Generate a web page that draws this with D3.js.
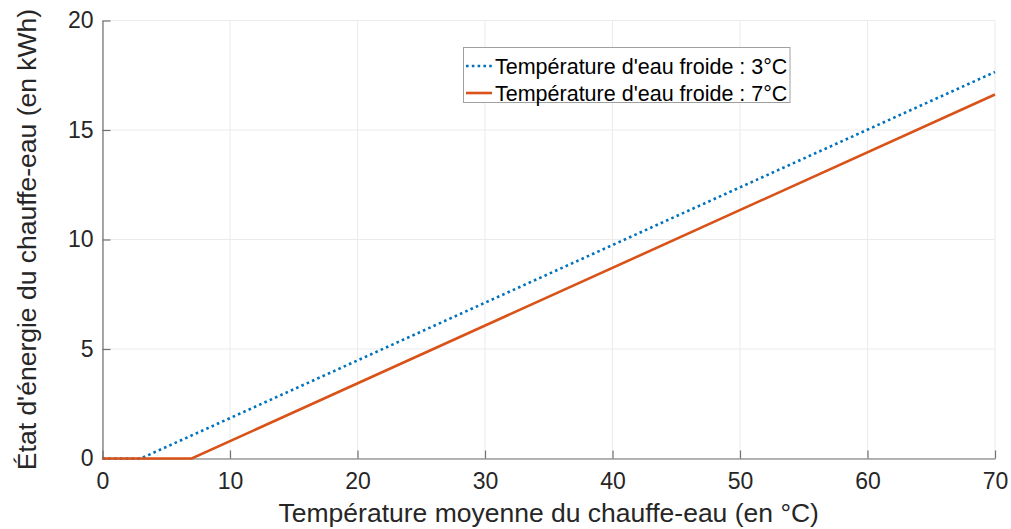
<!DOCTYPE html>
<html>
<head>
<meta charset="utf-8">
<script src="https://cdn.jsdelivr.net/npm/d3@7"></script>
<style>
body { margin: 0; background: #fff; }
text { font-family: "Liberation Sans", Arial, sans-serif; }
</style>
</head>
<body>
<div id="chart"></div>
<script>
// valeurs
const tempCold3 = [0, 3, 70];
const energyCold3 = [0, 0, 17.65];
const tempCold7 = [0, 7, 70];
const energyCold7 = [0, 0, 16.62];
const seriesNames = ["Température d'eau froide : 3°C", "Température d'eau froide : 7°C"];
const xTicks = [0, 10, 20, 30, 40, 50, 60, 70];
const yTicks = [0, 5, 10, 15, 20];

const width = 1011, height = 529;
const margin = {top: 20.5, right: 16, bottom: 70.5, left: 102.5};

let svg = d3.select("#chart")
    .append("svg")
    .attr("width", width)
    .attr("height", height);

let x = d3.scaleLinear().domain([0, 70]).range([margin.left, width - margin.right]);
let y = d3.scaleLinear().domain([0, 20]).range([height - margin.bottom, margin.top]);

// grille
svg.append("g").selectAll("line").data(xTicks).join("line")
    .attr("x1", d => x(d)).attr("x2", d => x(d))
    .attr("y1", y(0)).attr("y2", y(20))
    .attr("stroke", "#ebebeb").attr("stroke-width", 1);
svg.append("g").selectAll("line").data(yTicks).join("line")
    .attr("x1", x(0)).attr("x2", x(70))
    .attr("y1", d => y(d)).attr("y2", d => y(d))
    .attr("stroke", "#ebebeb").attr("stroke-width", 1);

// axes
let xAxis = svg.append("g")
    .attr("transform", `translate(0,${y(0)})`)
    .call(d3.axisBottom(x).tickValues(xTicks).tickSizeInner(-8).tickSizeOuter(0).tickPadding(14));
let yAxis = svg.append("g")
    .attr("transform", `translate(${x(0)},0)`)
    .call(d3.axisLeft(y).tickValues(yTicks).tickSizeInner(-8).tickSizeOuter(0).tickPadding(9));

[xAxis, yAxis].forEach(a => {
    a.select(".domain").attr("stroke", "#707070").attr("stroke-width", 1.2);
    a.selectAll(".tick line").attr("stroke", "#707070").attr("stroke-width", 1.2);
    a.selectAll(".tick text")
        .style("font-size", "23px")
        .style("font-family", "Liberation Sans, Arial, sans-serif")
        .attr("fill", "#262626");
});

// courbes
let line = d3.line().x(d => x(d[0])).y(d => y(d[1]));
svg.append("path")
    .datum(d3.zip(tempCold3, energyCold3))
    .attr("d", line)
    .attr("fill", "none")
    .attr("stroke", "#0072BD")
    .attr("stroke-width", 2.6)
    .attr("stroke-dasharray", "2.6 3.2");
svg.append("path")
    .datum(d3.zip(tempCold7, energyCold7))
    .attr("d", line)
    .attr("fill", "none")
    .attr("stroke", "#D95319")
    .attr("stroke-width", 2.6);

// titres des axes
svg.append("text")
    .attr("x", (x(0) + x(70)) / 2)
    .attr("y", 522)
    .style("text-anchor", "middle")
    .style("font-size", "26.5px")
    .attr("fill", "#262626")
    .text("Température moyenne du chauffe-eau (en °C)");
svg.append("text")
    .attr("transform", `translate(36,${(y(0) + y(20)) / 2}) rotate(-90)`)
    .style("text-anchor", "middle")
    .style("font-size", "26.5px")
    .attr("fill", "#262626")
    .text("État d'énergie du chauffe-eau (en kWh)");

// légende
let legend = svg.append("g");
legend.append("rect")
    .attr("x", 463.5).attr("y", 47.5)
    .attr("width", 326.5).attr("height", 55)
    .attr("fill", "#fff")
    .attr("stroke", "#a0a0a0").attr("stroke-width", 1);
const legendStyles = [
    {color: "#0072BD", dash: "2.6 3.2"},
    {color: "#D95319", dash: null}
];
seriesNames.forEach((name, i) => {
    let ly = 66 + i * 27;
    legend.append("line")
        .attr("x1", 466).attr("x2", 492)
        .attr("y1", ly).attr("y2", ly)
        .attr("stroke", legendStyles[i].color)
        .attr("stroke-width", 2.6)
        .attr("stroke-dasharray", legendStyles[i].dash);
    legend.append("text")
        .attr("x", 495).attr("y", ly + 7.5)
        .style("font-size", "21.5px")
        .attr("fill", "#000")
        .text(name);
});
</script>
</body>
</html>
